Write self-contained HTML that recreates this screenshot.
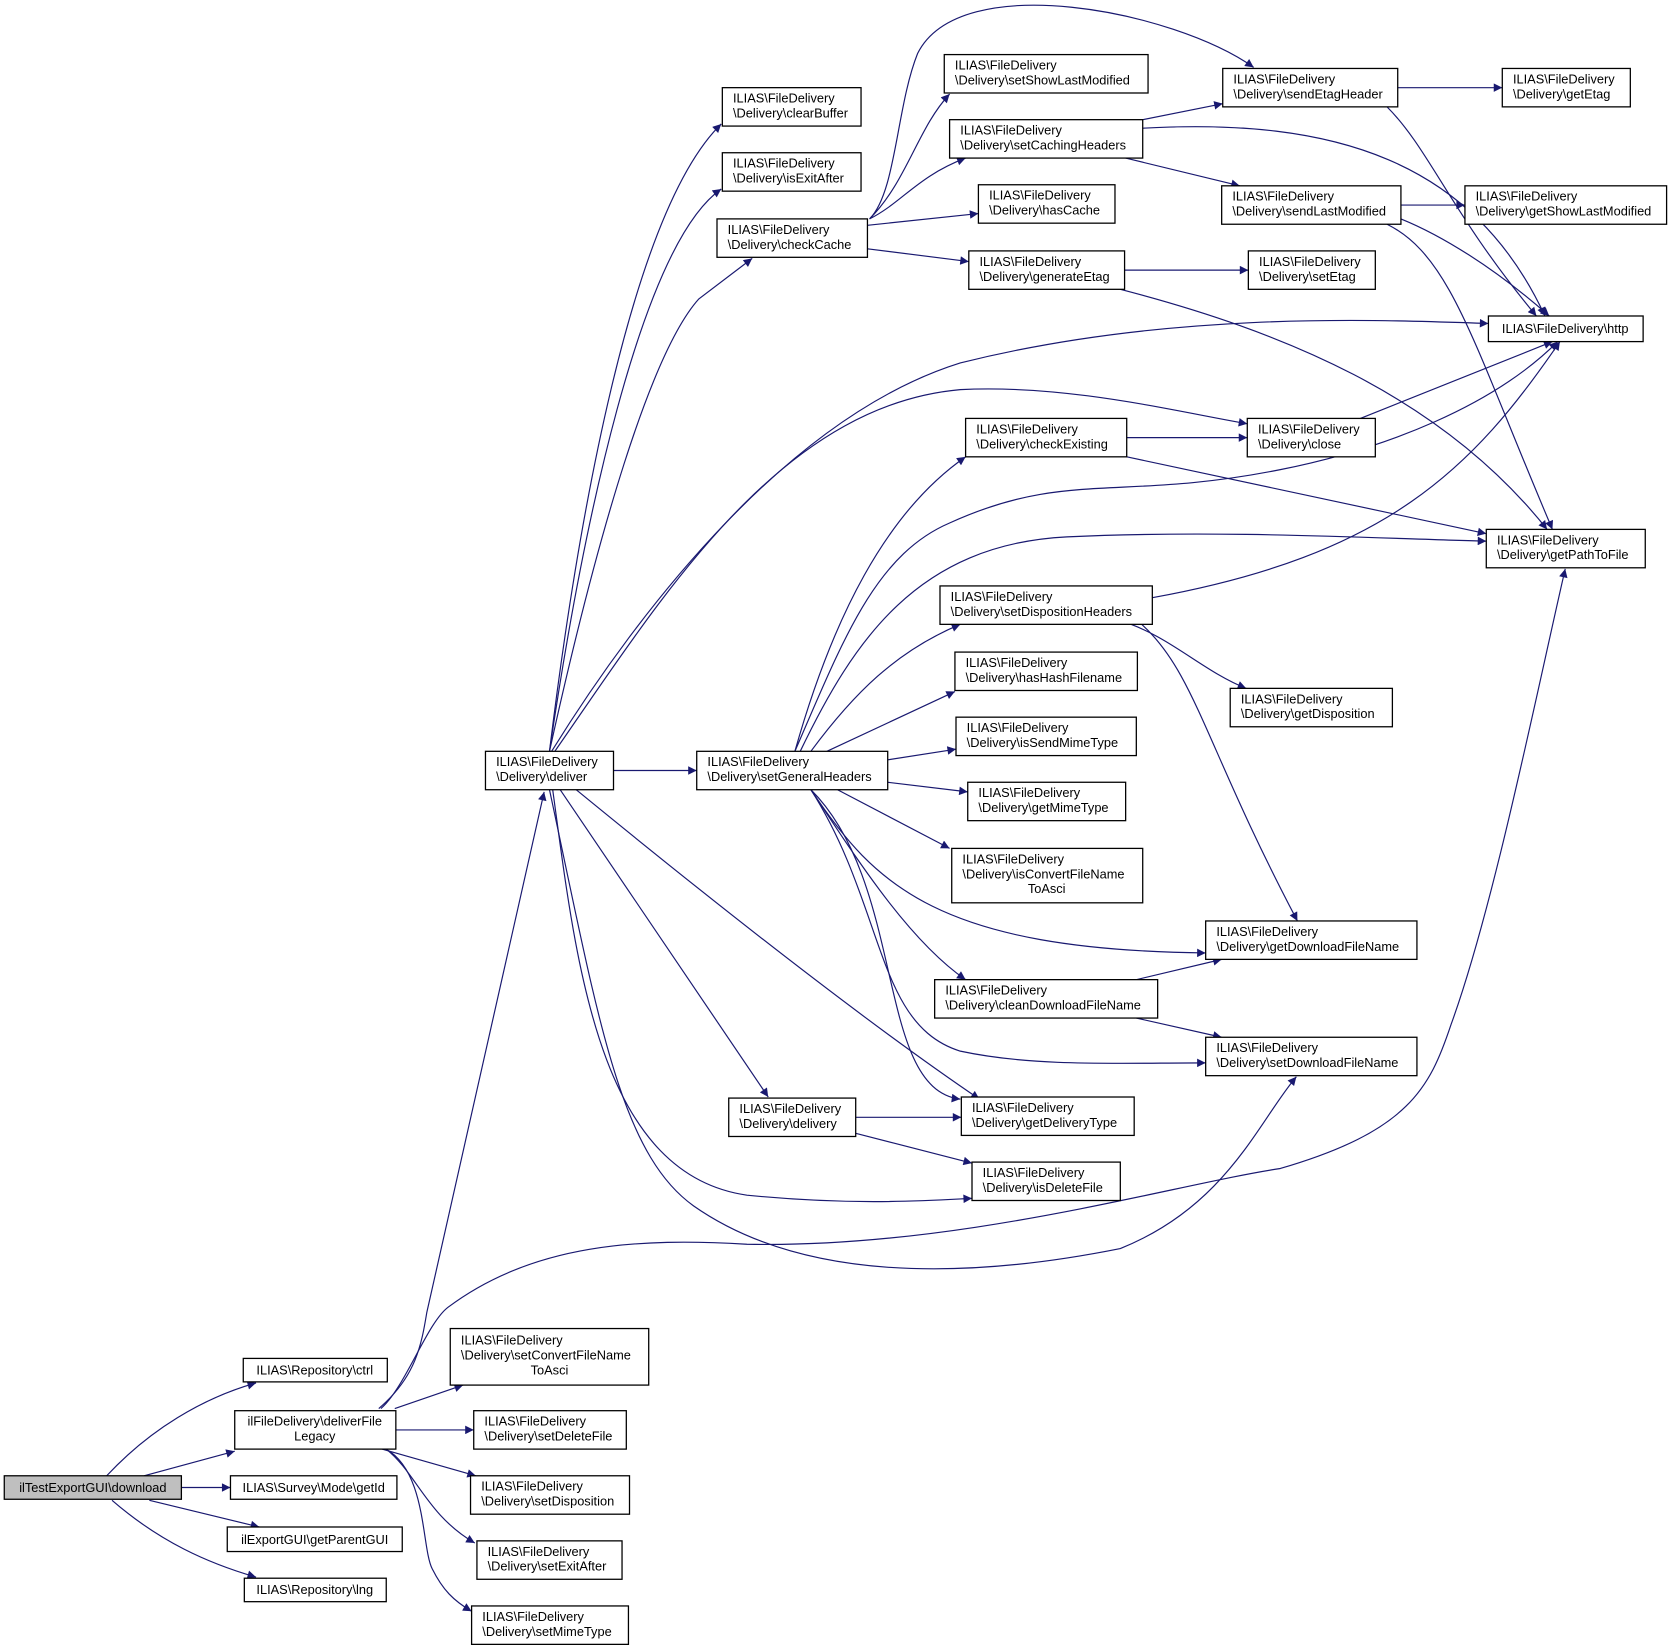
<!DOCTYPE html>
<html><head><meta charset="utf-8"><style>
html,body{margin:0;padding:0;background:#fff;}
svg{display:block;}
text{font-family:"Liberation Sans",sans-serif;font-size:12px;fill:#000;}
.b{fill:#fff;stroke:#000;stroke-width:1.2;}
.e{fill:none;stroke:#191970;stroke-width:1.1;marker-end:url(#a);}
</style></head><body>
<svg width="1673" height="1652" viewBox="0 0 1568 1548" xmlns="http://www.w3.org/2000/svg">
<defs><marker id="a" viewBox="0 0 10 10" refX="10" refY="5" markerWidth="10" markerHeight="8" markerUnits="userSpaceOnUse" orient="auto"><path d="M0,0 L10,5 L0,10 z" fill="#191970"/></marker></defs>
<g>
<path class="e" d="M100,1383 C140,1340 190,1310 240,1296"/>
<path class="e" d="M135,1383 L220,1360"/>
<path class="e" d="M170,1394 L216,1394"/>
<path class="e" d="M140,1406 L243,1431"/>
<path class="e" d="M105,1406 C150,1445 195,1465 240,1478"/>
<path class="e" d="M370,1320 L434,1298"/>
<path class="e" d="M371,1340 L444,1340"/>
<path class="e" d="M358,1358 L446,1383"/>
<path class="e" d="M362,1358 C390,1380 400,1420 445,1446"/>
<path class="e" d="M362,1358 C400,1380 395,1450 405,1470 C415,1490 425,1500 442,1510"/>
<path class="e" d="M355,1320 C390,1290 395,1260 400,1230 L510,742"/>
<path class="e" d="M357,1320 C380,1300 400,1240 420,1225 C500,1165 600,1160 700,1166 C900,1170 1100,1110 1200,1095 C1320,1060 1340,1020 1360,960 C1400,850 1440,650 1467,533"/>
<path class="e" d="M515,704 C540,500 590,200 676,116"/>
<path class="e" d="M515,704 C545,500 600,230 676,177"/>
<path class="e" d="M515,704 C560,500 610,330 655,280 L705,242"/>
<path class="e" d="M575,722 L653,722"/>
<path class="e" d="M517,704 C600,570 740,390 900,340 C1100,290 1300,300 1395,303"/>
<path class="e" d="M520,704 C620,560 730,380 900,365 C1000,360 1100,385 1169,397"/>
<path class="e" d="M525,740 L720,1028"/>
<path class="e" d="M540,740 C650,830 800,950 918,1030"/>
<path class="e" d="M518,740 C540,900 560,1100 700,1120 C800,1130 870,1125 911,1123"/>
<path class="e" d="M515,740 C560,950 580,1080 650,1130 C750,1200 900,1200 1050,1170 C1150,1130 1180,1050 1215,1009"/>
<path class="e" d="M745,704 C780,580 830,480 905,428"/>
<path class="e" d="M745,704 C790,600 820,520 890,490 C1000,440 1050,470 1200,440 C1300,420 1400,380 1460,320"/>
<path class="e" d="M750,704 C800,600 860,510 1000,503 C1150,496 1300,505 1393,507"/>
<path class="e" d="M760,704 C800,650 840,610 900,585"/>
<path class="e" d="M775,704 L895,648"/>
<path class="e" d="M832,712 L896,702"/>
<path class="e" d="M832,733 L907,742"/>
<path class="e" d="M785,740 L890,795"/>
<path class="e" d="M760,740 C820,830 880,890 1130,893"/>
<path class="e" d="M760,740 C800,800 850,880 905,918"/>
<path class="e" d="M760,740 C830,850 820,960 900,985 C970,1000 1050,996 1130,996"/>
<path class="e" d="M760,740 C850,830 820,1020 900,1030"/>
<path class="e" d="M815,205 C840,180 840,100 860,50 C900,-30 1100,10 1175,63"/>
<path class="e" d="M815,205 C850,170 860,120 890,88"/>
<path class="e" d="M815,205 C845,190 860,165 905,148"/>
<path class="e" d="M813,211 L917,200"/>
<path class="e" d="M813,233 L908,245"/>
<path class="e" d="M1071,112 L1146,97"/>
<path class="e" d="M1071,120 C1250,110 1380,150 1448,296"/>
<path class="e" d="M1055,148 L1162,174"/>
<path class="e" d="M1310,82 L1408,82"/>
<path class="e" d="M1300,100 C1340,140 1360,200 1440,296"/>
<path class="e" d="M1313,192 L1373,192"/>
<path class="e" d="M1313,205 C1350,220 1400,250 1452,296"/>
<path class="e" d="M1300,210 C1360,240 1380,320 1455,496"/>
<path class="e" d="M1054,253 L1170,253"/>
<path class="e" d="M1050,271 C1200,310 1350,370 1450,496"/>
<path class="e" d="M1056,410 L1169,410"/>
<path class="e" d="M1056,428 L1393,500"/>
<path class="e" d="M1275,392 L1455,320"/>
<path class="e" d="M1080,560 C1300,520 1380,440 1462,320"/>
<path class="e" d="M1060,585 C1100,600 1130,630 1168,645"/>
<path class="e" d="M1070,585 C1120,630 1130,700 1216,863"/>
<path class="e" d="M1065,918 L1145,899"/>
<path class="e" d="M1065,954 L1145,972"/>
<path class="e" d="M802,1047 L901,1047"/>
<path class="e" d="M802,1062 L911,1090"/>
</g>
<g>
<rect x="4" y="1383" width="166" height="22" style="fill:#bfbfbf;stroke:#000;stroke-width:1.2"/><text x="87" y="1398" text-anchor="middle">ilTestExportGUI\download</text>
<rect class="b" x="228" y="1273" width="135" height="22"/><text x="295" y="1288" text-anchor="middle">ILIAS\Repository\ctrl</text>
<rect class="b" x="220" y="1322" width="151" height="36"/><text x="295" y="1336" text-anchor="middle">ilFileDelivery\deliverFile</text><text x="295" y="1350" text-anchor="middle">Legacy</text>
<rect class="b" x="216" y="1383" width="156" height="22"/><text x="294" y="1398" text-anchor="middle">ILIAS\Survey\Mode\getId</text>
<rect class="b" x="213" y="1431" width="164" height="23"/><text x="295" y="1447" text-anchor="middle">ilExportGUI\getParentGUI</text>
<rect class="b" x="229" y="1479" width="133" height="22"/><text x="295" y="1494" text-anchor="middle">ILIAS\Repository\lng</text>
<rect class="b" x="422" y="1245" width="186" height="53"/><text x="432" y="1260">ILIAS\FileDelivery</text><text x="432" y="1274">\Delivery\setConvertFileName</text><text x="515" y="1288" text-anchor="middle">ToAsci</text>
<rect class="b" x="444" y="1322" width="143" height="36"/><text x="454" y="1336">ILIAS\FileDelivery</text><text x="454" y="1350">\Delivery\setDeleteFile</text>
<rect class="b" x="441" y="1383" width="149" height="36"/><text x="451" y="1397">ILIAS\FileDelivery</text><text x="451" y="1411">\Delivery\setDisposition</text>
<rect class="b" x="447" y="1444" width="136" height="36"/><text x="457" y="1458">ILIAS\FileDelivery</text><text x="457" y="1472">\Delivery\setExitAfter</text>
<rect class="b" x="442" y="1505" width="147" height="36"/><text x="452" y="1519">ILIAS\FileDelivery</text><text x="452" y="1533">\Delivery\setMimeType</text>
<rect class="b" x="455" y="704" width="120" height="36"/><text x="465" y="718">ILIAS\FileDelivery</text><text x="465" y="732">\Delivery\deliver</text>
<rect class="b" x="653" y="704" width="179" height="36"/><text x="663" y="718">ILIAS\FileDelivery</text><text x="663" y="732">\Delivery\setGeneralHeaders</text>
<rect class="b" x="683" y="1029" width="119" height="36"/><text x="693" y="1043">ILIAS\FileDelivery</text><text x="693" y="1057">\Delivery\delivery</text>
<rect class="b" x="677" y="82" width="130" height="36"/><text x="687" y="96">ILIAS\FileDelivery</text><text x="687" y="110">\Delivery\clearBuffer</text>
<rect class="b" x="677" y="143" width="130" height="36"/><text x="687" y="157">ILIAS\FileDelivery</text><text x="687" y="171">\Delivery\isExitAfter</text>
<rect class="b" x="672" y="205" width="141" height="36"/><text x="682" y="219">ILIAS\FileDelivery</text><text x="682" y="233">\Delivery\checkCache</text>
<rect class="b" x="885" y="51" width="191" height="36"/><text x="895" y="65">ILIAS\FileDelivery</text><text x="895" y="79">\Delivery\setShowLastModified</text>
<rect class="b" x="890" y="112" width="181" height="36"/><text x="900" y="126">ILIAS\FileDelivery</text><text x="900" y="140">\Delivery\setCachingHeaders</text>
<rect class="b" x="917" y="173" width="128" height="36"/><text x="927" y="187">ILIAS\FileDelivery</text><text x="927" y="201">\Delivery\hasCache</text>
<rect class="b" x="908" y="235" width="146" height="36"/><text x="918" y="249">ILIAS\FileDelivery</text><text x="918" y="263">\Delivery\generateEtag</text>
<rect class="b" x="1146" y="64" width="164" height="36"/><text x="1156" y="78">ILIAS\FileDelivery</text><text x="1156" y="92">\Delivery\sendEtagHeader</text>
<rect class="b" x="1145" y="174" width="168" height="36"/><text x="1155" y="188">ILIAS\FileDelivery</text><text x="1155" y="202">\Delivery\sendLastModified</text>
<rect class="b" x="1170" y="235" width="119" height="36"/><text x="1180" y="249">ILIAS\FileDelivery</text><text x="1180" y="263">\Delivery\setEtag</text>
<rect class="b" x="1408" y="64" width="120" height="36"/><text x="1418" y="78">ILIAS\FileDelivery</text><text x="1418" y="92">\Delivery\getEtag</text>
<rect class="b" x="1373" y="174" width="189" height="36"/><text x="1383" y="188">ILIAS\FileDelivery</text><text x="1383" y="202">\Delivery\getShowLastModified</text>
<rect class="b" x="1395" y="296" width="145" height="24"/><text x="1467" y="312" text-anchor="middle">ILIAS\FileDelivery\http</text>
<rect class="b" x="1393" y="496" width="149" height="36"/><text x="1403" y="510">ILIAS\FileDelivery</text><text x="1403" y="524">\Delivery\getPathToFile</text>
<rect class="b" x="905" y="392" width="151" height="36"/><text x="915" y="406">ILIAS\FileDelivery</text><text x="915" y="420">\Delivery\checkExisting</text>
<rect class="b" x="1169" y="392" width="120" height="36"/><text x="1179" y="406">ILIAS\FileDelivery</text><text x="1179" y="420">\Delivery\close</text>
<rect class="b" x="881" y="549" width="199" height="36"/><text x="891" y="563">ILIAS\FileDelivery</text><text x="891" y="577">\Delivery\setDispositionHeaders</text>
<rect class="b" x="895" y="611" width="171" height="36"/><text x="905" y="625">ILIAS\FileDelivery</text><text x="905" y="639">\Delivery\hasHashFilename</text>
<rect class="b" x="1153" y="645" width="152" height="36"/><text x="1163" y="659">ILIAS\FileDelivery</text><text x="1163" y="673">\Delivery\getDisposition</text>
<rect class="b" x="896" y="672" width="169" height="36"/><text x="906" y="686">ILIAS\FileDelivery</text><text x="906" y="700">\Delivery\isSendMimeType</text>
<rect class="b" x="907" y="733" width="148" height="36"/><text x="917" y="747">ILIAS\FileDelivery</text><text x="917" y="761">\Delivery\getMimeType</text>
<rect class="b" x="892" y="795" width="179" height="51"/><text x="902" y="809">ILIAS\FileDelivery</text><text x="902" y="823">\Delivery\isConvertFileName</text><text x="981" y="837" text-anchor="middle">ToAsci</text>
<rect class="b" x="1130" y="863" width="198" height="36"/><text x="1140" y="877">ILIAS\FileDelivery</text><text x="1140" y="891">\Delivery\getDownloadFileName</text>
<rect class="b" x="876" y="918" width="209" height="36"/><text x="886" y="932">ILIAS\FileDelivery</text><text x="886" y="946">\Delivery\cleanDownloadFileName</text>
<rect class="b" x="1130" y="972" width="198" height="36"/><text x="1140" y="986">ILIAS\FileDelivery</text><text x="1140" y="1000">\Delivery\setDownloadFileName</text>
<rect class="b" x="901" y="1028" width="162" height="36"/><text x="911" y="1042">ILIAS\FileDelivery</text><text x="911" y="1056">\Delivery\getDeliveryType</text>
<rect class="b" x="911" y="1089" width="139" height="36"/><text x="921" y="1103">ILIAS\FileDelivery</text><text x="921" y="1117">\Delivery\isDeleteFile</text>
</g>
</svg>
</body></html>
